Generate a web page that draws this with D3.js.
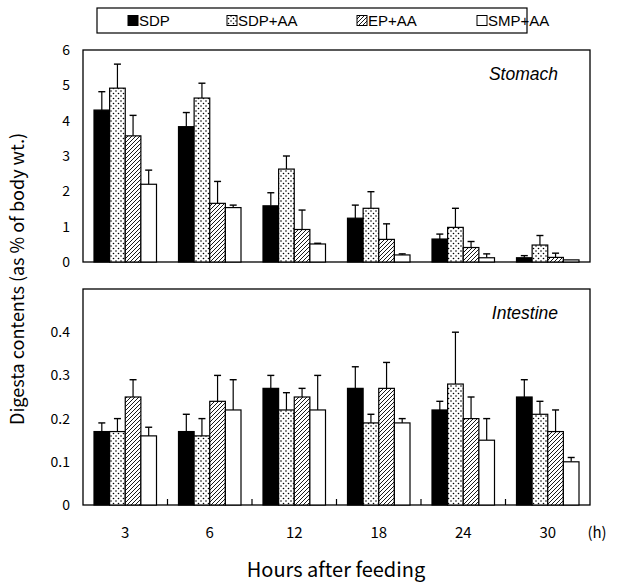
<!DOCTYPE html>
<html><head><meta charset="utf-8">
<script src="https://cdn.jsdelivr.net/npm/d3@7"></script>
<style>body{margin:0;background:#fff}</style>
</head><body>
<svg id="c" width="619" height="583"></svg>
<script>
const categories = ["3","6","12","18","24","30"];
const seriesNames = ["SDP","SDP+AA","EP+AA","SMP+AA"];
const stomachSDP   = [4.30,3.83,1.59,1.24,0.65,0.12];
const stomachSDPAA = [4.92,4.64,2.63,1.52,0.98,0.48];
const stomachEPAA  = [3.57,1.66,0.92,0.64,0.41,0.13];
const stomachSMPAA = [2.20,1.54,0.51,0.20,0.12,0.06];
const stomachErrSDP   = [0.52,0.40,0.37,0.37,0.14,0.06];
const stomachErrSDPAA = [0.68,0.42,0.37,0.47,0.54,0.27];
const stomachErrEPAA  = [0.58,0.62,0.55,0.44,0.17,0.12];
const stomachErrSMPAA = [0.40,0.07,0.02,0.03,0.11,0.00];
const intestineSDP   = [0.17,0.17,0.27,0.27,0.22,0.25];
const intestineSDPAA = [0.17,0.16,0.22,0.19,0.28,0.21];
const intestineEPAA  = [0.25,0.24,0.25,0.27,0.20,0.17];
const intestineSMPAA = [0.16,0.22,0.22,0.19,0.15,0.10];
const intestineErrSDP   = [0.02,0.04,0.03,0.05,0.02,0.04];
const intestineErrSDPAA = [0.03,0.04,0.04,0.02,0.12,0.03];
const intestineErrEPAA  = [0.04,0.06,0.02,0.06,0.05,0.05];
const intestineErrSMPAA = [0.02,0.07,0.08,0.01,0.05,0.01];
const stomachTicks = [0,1,2,3,4,5,6];
const intestineTicks = [0,0.1,0.2,0.3,0.4];

const svg = d3.select("#c");
const defs = svg.append("defs");
const dots = defs.append("pattern").attr("id","dots").attr("patternUnits","userSpaceOnUse").attr("width",5).attr("height",5);
dots.append("rect").attr("width",5).attr("height",5).attr("fill","#fff");
dots.append("circle").attr("cx",1).attr("cy",1).attr("r",0.8).attr("fill","#000");
dots.append("circle").attr("cx",3.5).attr("cy",3.5).attr("r",0.8).attr("fill","#000");
const hatch = defs.append("pattern").attr("id","hatch").attr("patternUnits","userSpaceOnUse").attr("width",4).attr("height",4);
hatch.append("rect").attr("width",4).attr("height",4).attr("fill","#fff");
hatch.append("path").attr("d","M-1,1 l2,-2 M0,4 l4,-4 M3,5 l2,-2").attr("stroke","#000").attr("stroke-width",0.9);
const fills = ["#000","url(#dots)","url(#hatch)","#fff"];

const left = 83, right = 590;
const x0 = d3.scaleBand().domain(categories).range([left,right]).paddingInner(0).paddingOuter(0);
const x1 = d3.scaleBand().domain(seriesNames).range([11, x0.bandwidth()-11]).padding(0);

function panel(top, bottom, maxV, ticks, means, errs, label, fmt, showXTicks){
  const y = d3.scaleLinear().domain([0,maxV]).range([bottom,top]);
  const g = svg.append("g");
  g.append("rect").attr("x",left).attr("y",top).attr("width",right-left).attr("height",bottom-top)
    .attr("fill","none").attr("stroke","#000").attr("stroke-width",1.3);
  const ax = g.append("g").attr("transform",`translate(${left},0)`)
    .call(d3.axisLeft(y).tickValues(ticks).tickSize(0).tickPadding(13).tickFormat(fmt));
  ax.select(".domain").remove();
  ax.selectAll("text").attr("font-family","'Noto Sans CJK JP', 'Liberation Sans', sans-serif").attr("font-size",14).attr("fill","#000");
  if (showXTicks){
    categories.slice(1).forEach(c=>{
      g.append("line").attr("x1",x0(c)).attr("x2",x0(c)).attr("y1",bottom).attr("y2",bottom-6)
        .attr("stroke","#000").attr("stroke-width",1.2);
    });
  }
  seriesNames.forEach((s,si)=>{
    categories.forEach((c,ci)=>{
      const v = means[si][ci], e = errs[si][ci];
      const bx = x0(c)+x1(s), bw = x1.bandwidth();
      const cx = bx + bw/2;
      if (e>0){
        g.append("line").attr("x1",cx).attr("x2",cx).attr("y1",y(v)).attr("y2",y(v+e)).attr("stroke","#000").attr("stroke-width",1.2);
        g.append("line").attr("x1",cx-3.5).attr("x2",cx+3.5).attr("y1",y(v+e)).attr("y2",y(v+e)).attr("stroke","#000").attr("stroke-width",1.4);
      }
      g.append("rect").attr("x",bx).attr("y",y(v)).attr("width",bw).attr("height",bottom-y(v))
        .attr("fill",fills[si]).attr("stroke","#000").attr("stroke-width",1.2);
    });
  });
  g.append("text").attr("x",558).attr("y",top+30).attr("text-anchor","end")
    .attr("font-family","'Liberation Sans', Arial, sans-serif").attr("font-style","italic").attr("font-size",17.5).text(label);
}

panel(50, 262, 6, stomachTicks,
  [stomachSDP,stomachSDPAA,stomachEPAA,stomachSMPAA],
  [stomachErrSDP,stomachErrSDPAA,stomachErrEPAA,stomachErrSMPAA], "Stomach", d3.format("d"), false);
panel(289, 505, 0.5, intestineTicks,
  [intestineSDP,intestineSDPAA,intestineEPAA,intestineSMPAA],
  [intestineErrSDP,intestineErrSDPAA,intestineErrEPAA,intestineErrSMPAA], "Intestine", v => v===0 ? "0" : d3.format(".1f")(v), true);

const xf = "'Noto Sans CJK JP', 'Liberation Sans', sans-serif";
svg.append("g").selectAll("text").data(categories).join("text")
  .attr("x",d=>x0(d)+x0.bandwidth()/2).attr("y",538).attr("text-anchor","middle")
  .attr("font-family",xf).attr("font-size",15).text(d=>d);
svg.append("text").attr("x",597).attr("y",538).attr("text-anchor","middle").attr("font-family",xf).attr("font-size",15).text("(h)");
svg.append("text").attr("x",336).attr("y",577).attr("text-anchor","middle").attr("font-family",xf).attr("font-size",20).text("Hours after feeding");
svg.append("text").attr("transform","translate(24,279) rotate(-90)").attr("text-anchor","middle")
  .attr("font-family",xf).attr("font-size",18).text("Digesta contents (as % of body wt.)");

const lg = svg.append("g");
lg.append("rect").attr("x",97).attr("y",8).attr("width",430).attr("height",25).attr("fill","none").attr("stroke","#000").attr("stroke-width",1.2);
const legX = [128,227,357,477];
seriesNames.forEach((s,i)=>{
  lg.append("rect").attr("x",legX[i]).attr("y",15.5).attr("width",10).attr("height",10)
    .attr("fill",fills[i]).attr("stroke","#000").attr("stroke-width",1);
  lg.append("text").attr("x",legX[i]+11).attr("y",25.5).attr("font-family","'Liberation Sans', Arial, sans-serif").attr("font-size",15).text(s);
});
</script>
</body></html>
